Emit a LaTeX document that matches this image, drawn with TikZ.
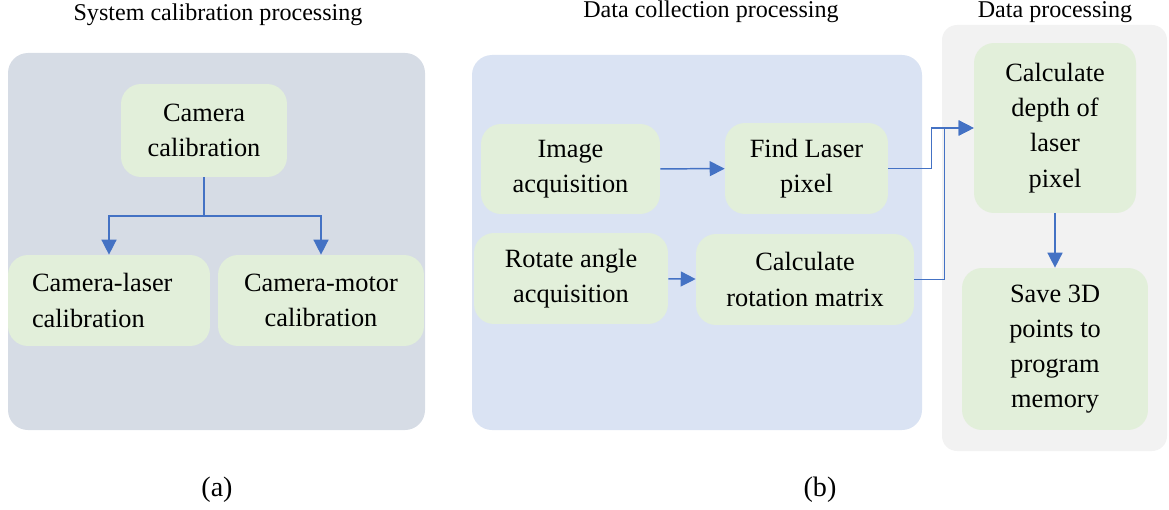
\documentclass[tikz,border=0pt]{standalone}
\usepackage{fontspec}
\setmainfont{Liberation Serif}
\usetikzlibrary{arrows.meta,positioning,calc}
\definecolor{ProcGreen}{HTML}{E2EFDA}
\definecolor{ProcSlate}{HTML}{D6DCE5}
\definecolor{ProcBlue}{HTML}{DAE3F3}
\definecolor{ProcGray}{HTML}{F2F2F2}
\definecolor{ProcArrow}{HTML}{4472C4}

\begin{document}
\begin{tikzpicture}[x=0.02cm,y=-0.02cm,every node/.style={font=\fontsize{15}{20}\selectfont,align=center},
    box/.style={fill=ProcGreen,rounded corners=0.4cm,minimum height=1.82cm},
    title/.style={font=\fontsize{13.7}{16}\selectfont},
    link/.style={ProcArrow,line width=0.85pt},
    arr/.style={link,-{Triangle[length=8.5pt,width=8.5pt]}}]
    \useasboundingbox (0,0) rectangle (1169,510);
    % panels
    \fill[ProcSlate,rounded corners=0.4cm] (8,53) rectangle (425,430);
    \fill[ProcBlue,rounded corners=0.4cm] (472,55) rectangle (922,430);
    \fill[ProcGray,rounded corners=0.3cm] (942,25) rectangle (1167,451);
    \node[title] (ttla) at (218,15) {System calibration processing};
    \node[title] (ttlb) at (711,12) {Data collection processing};
    \node[title,inner ysep=0pt] (ttlc) at (1055,12) {Data processing};
    \node[font=\fontsize{16}{18}\selectfont] (capa) at (217,490) {(a)};
    \node[font=\fontsize{16}{18}\selectfont] (capb) at (820,490) {(b)};
    % (a) calibration
    \node[box,minimum width=3.32cm,minimum height=1.86cm] (cam) at (204,130.5) {Camera\\calibration};
    \node[box,minimum width=4.04cm,text width=3.08cm,inner xsep=0.48cm,align=left] (camlaser) at (109,300.5) {Camera-laser\\calibration};
    \node[box,minimum width=4.12cm] (cammotor) at (321,300.5) {Camera-motor\\calibration};
    \coordinate (split) at (204,216);
    \draw[link] (cam.south) -- (split);
    \foreach \y in {camlaser,cammotor}{\draw[arr] (split) -| (\y.north);}
    % (b) data collection
    \node[box,minimum width=3.58cm,minimum height=1.8cm] (imgacq) at (570.5,169) {Image\\acquisition};
    \node[box,minimum width=3.26cm] (findlaser) at (806.5,168.5) {Find Laser\\pixel};
    \node[box,minimum width=3.88cm] (rotacq) at (571,278.5) {Rotate angle\\acquisition};
    \node[box,minimum width=4.36cm] (calcrot) at (805,279.5) {Calculate\\rotation matrix};
    \foreach \x/\y in {imgacq/findlaser,rotacq/calcrot}{\draw[arr] (\x) -- (\y);}
    % data processing
    \node[box,minimum width=3.24cm,minimum height=3.4cm] (depth) at (1055,128) {Calculate\\depth of\\laser\\pixel};
    \node[box,minimum width=3.72cm,minimum height=3.24cm] (save) at (1055,349) {Save 3D\\points to\\program\\memory};
    \draw[arr] (findlaser.east) -- ++(43,0) |- (depth.west);
    \draw[arr] (calcrot.east) -- ++(30,0) |- (depth.west);
    \draw[arr] (depth) -- (save);
  \end{tikzpicture}
\end{document}
